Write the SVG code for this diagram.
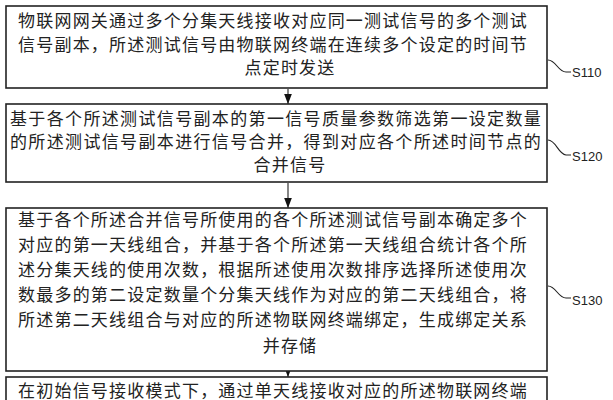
<svg xmlns="http://www.w3.org/2000/svg" width="613" height="400" viewBox="0 0 613 400">
<style>
.box{fill:#fff;stroke:#222;stroke-width:1.6}
.t{font-family:"Noto Sans CJK SC",sans-serif;font-size:17px;fill:#222;letter-spacing:1.2px}
.c{text-anchor:middle}
.lbl{font-family:"Liberation Sans",sans-serif;font-size:13px;fill:#222}
.ln{fill:none;stroke:#222;stroke-width:1.1}
</style>
<defs><marker id="a2" markerWidth="10" markerHeight="13" refX="13" refY="5" orient="auto" markerUnits="userSpaceOnUse" viewBox="0 0 13 10"><path d="M0,0 L13,5 L0,10 Z" fill="#111"/></marker></defs>
<g id="connectors">
<line class="ln" x1="288" y1="89" x2="288" y2="104" marker-end="url(#a2)"/>
<line class="ln" x1="288" y1="183" x2="288" y2="208" marker-end="url(#a2)"/>
<line class="ln" x1="288" y1="372" x2="288" y2="377" marker-end="url(#a2)"/>
<path class="ln" d="M548,60 C556,60 558,72 566,72 L571,72"/>
<path class="ln" d="M548,140 C556,140 558,154 566,155 L571,155"/>
<path class="ln" d="M548,286 C556,286 558,298 566,298 L571,298"/>
</g>
<g id="s110"><rect class="box" x="6" y="6" width="541" height="82"/>
<text class="t" x="18" y="27" textLength="510" lengthAdjust="spacing">物联网网关通过多个分集天线接收对应同一测试信号的多个测试</text>
<text class="t" x="18" y="51" textLength="510" lengthAdjust="spacing">信号副本，所述测试信号由物联网终端在连续多个设定的时间节</text>
<text class="t c" x="290" y="74">点定时发送</text>
<text class="lbl" x="572" y="77">S110</text></g>
<g id="s120"><rect class="box" x="6" y="104" width="541" height="78"/>
<text class="t" x="10" y="125" textLength="532" lengthAdjust="spacing">基于各个所述测试信号副本的第一信号质量参数筛选第一设定数量</text>
<text class="t" x="10" y="148" textLength="532" lengthAdjust="spacing">的所述测试信号副本进行信号合并，得到对应各个所述时间节点的</text>
<text class="t c" x="290" y="171">合并信号</text>
<text class="lbl" x="572" y="161">S120</text></g>
<g id="s130"><rect class="box" x="6" y="208" width="541" height="163"/>
<text class="t" x="18" y="226" textLength="510" lengthAdjust="spacing">基于各个所述合并信号所使用的各个所述测试信号副本确定多个</text>
<text class="t" x="18" y="251" textLength="510" lengthAdjust="spacing">对应的第一天线组合，并基于各个所述第一天线组合统计各个所</text>
<text class="t" x="18" y="276" textLength="510" lengthAdjust="spacing">述分集天线的使用次数，根据所述使用次数排序选择所述使用次</text>
<text class="t" x="18" y="301" textLength="510" lengthAdjust="spacing">数最多的第二设定数量个分集天线作为对应的第二天线组合，将</text>
<text class="t" x="18" y="326" textLength="510" lengthAdjust="spacing">所述第二天线组合与对应的所述物联网终端绑定，生成绑定关系</text>
<text class="t c" x="290" y="352">并存储</text>
<text class="lbl" x="572" y="305">S130</text></g>
<g id="s140"><rect class="box" x="6" y="377" width="541" height="40"/>
<text class="t" x="18" y="397" textLength="510" lengthAdjust="spacing">在初始信号接收模式下，通过单天线接收对应的所述物联网终端</text></g>
</svg>
